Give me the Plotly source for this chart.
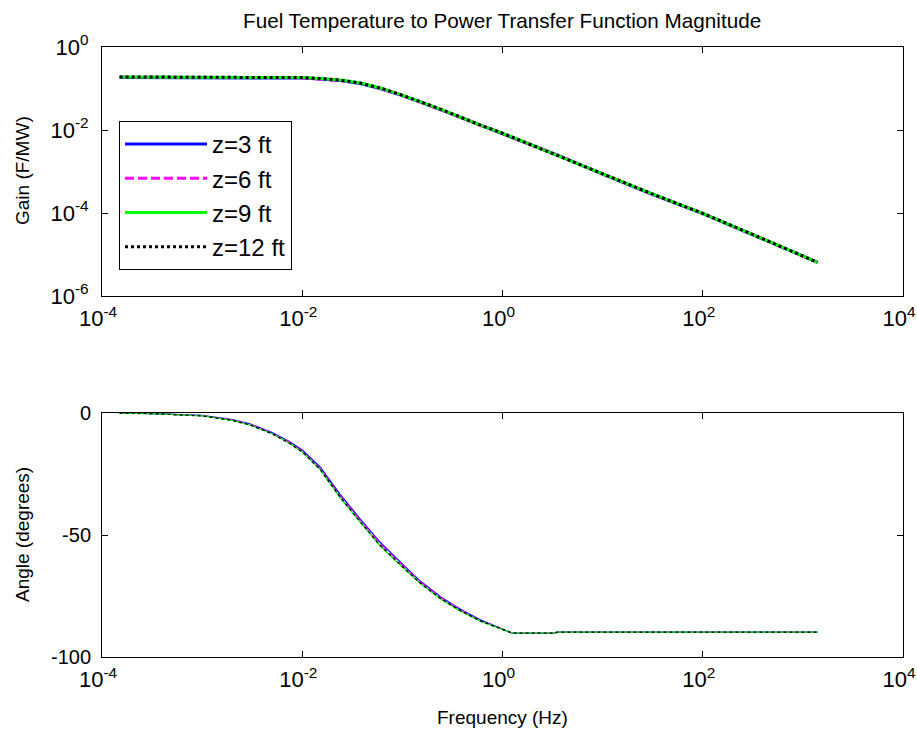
import plotly.graph_objects as go

# ---------------- data ----------------
freq_hz = [1.5e-4, 3e-4, 1e-3, 2e-3, 3e-3, 5e-3, 7.5e-3, 0.01, 0.015, 0.024,
           0.038, 0.06, 0.095, 0.15, 0.24, 0.38, 0.6, 0.95, 1.25, 3.35, 3.5,
           10, 30, 100, 300, 1000, 1400]

series_names = ["z=3 ft", "z=6 ft", "z=9 ft", "z=12 ft"]

gain_z3 = [0.185, 0.185, 0.185, 0.185, 0.185, 0.184, 0.181, 0.178, 0.170, 0.155,
           0.131, 0.100, 0.070, 0.048, 0.031, 0.0200, 0.0129, 0.0087, 0.0066,
           0.0026, 0.0025, 8.7e-4, 2.95e-4, 9.7e-5, 3.2e-5, 9.2e-6, 6.5e-6]
gain_z6 = [0.188, 0.188, 0.188, 0.188, 0.188, 0.187, 0.183, 0.179, 0.171, 0.157,
           0.133, 0.101, 0.071, 0.048, 0.031, 0.0202, 0.0130, 0.0088, 0.0066,
           0.0026, 0.0025, 8.8e-4, 2.97e-4, 9.8e-5, 3.2e-5, 9.2e-6, 6.5e-6]
gain_z9 = [0.19, 0.19, 0.19, 0.19, 0.19, 0.189, 0.186, 0.183, 0.175, 0.160,
           0.135, 0.103, 0.072, 0.049, 0.032, 0.0205, 0.0131, 0.0088, 0.0067,
           0.0026, 0.0025, 8.8e-4, 3.0e-4, 9.8e-5, 3.2e-5, 9.2e-6, 6.5e-6]
gain_z12 = [0.19, 0.19, 0.19, 0.19, 0.19, 0.189, 0.186, 0.183, 0.175, 0.160,
            0.135, 0.103, 0.072, 0.049, 0.032, 0.0205, 0.0131, 0.0088, 0.0067,
            0.0026, 0.0025, 8.8e-4, 3.0e-4, 9.8e-5, 3.2e-5, 9.2e-6, 6.5e-6]

angle_z3 = [0, -0.2, -1.0, -2.7, -4.5, -8.0, -11.8, -15.2, -22.0, -33.5,
            -43.5, -53.0, -61.0, -68.8, -75.3, -80.5, -84.8, -88.0, -90.2,
            -90.2, -89.8, -89.8, -89.8, -89.8, -89.8, -89.8, -89.8]
angle_z6 = [0, -0.2, -1.1, -2.8, -4.7, -8.2, -12.1, -15.6, -22.5, -34.0,
            -44.0, -53.5, -61.5, -69.1, -75.6, -80.7, -85.0, -88.1, -90.2,
            -90.2, -89.8, -89.8, -89.8, -89.8, -89.8, -89.8, -89.8]
angle_z9 = [0, -0.2, -1.2, -3.0, -4.9, -8.5, -12.5, -16.0, -23.0, -34.8,
            -44.8, -54.5, -62.3, -69.8, -76.2, -81.2, -85.3, -88.3, -90.2,
            -90.2, -89.8, -89.8, -89.8, -89.8, -89.8, -89.8, -89.8]
angle_z12 = [0, -0.2, -1.2, -3.0, -4.9, -8.5, -12.5, -16.0, -23.0, -34.6,
             -44.6, -54.2, -62.1, -69.6, -76.0, -81.0, -85.2, -88.2, -90.2,
             -90.2, -89.8, -89.8, -89.8, -89.8, -89.8, -89.8, -89.8]

x_tick_vals = [1e-4, 1e-2, 1, 1e2, 1e4]
x_tick_text = ["10<sup>-4</sup>", "10<sup>-2</sup>", "10<sup>0</sup>",
               "10<sup>2</sup>", "10<sup>4</sup>"]
gain_tick_vals = [1e-6, 1e-4, 1e-2, 1]
gain_tick_text = ["10<sup>-6</sup>", "10<sup>-4</sup>", "10<sup>-2</sup>",
                  "10<sup>0</sup>"]
angle_tick_vals = [-100, -50, 0]
angle_tick_text = ["-100", "-50", "0"]

# ---------------- styles ----------------
colors = ["#0000ff", "#ff00ff", "#00ff00", "#000000"]
dashes = ["solid", "9px,4px", "solid", "3px,3px"]
gains = [gain_z3, gain_z6, gain_z9, gain_z12]
angles = [angle_z3, angle_z6, angle_z9, angle_z12]

FONT = "Liberation Sans, Arial, sans-serif"

fig = go.Figure()
for i, name in enumerate(series_names):
    fig.add_trace(go.Scatter(
        x=freq_hz, y=gains[i], mode="lines", name=name,
        line=dict(color=colors[i], width=3, dash=dashes[i]),
        legendgroup=f"g{i}", xaxis="x", yaxis="y"))
for i, name in enumerate(series_names):
    fig.add_trace(go.Scatter(
        x=freq_hz, y=angles[i], mode="lines", name=name, showlegend=False,
        line=dict(color=colors[i], width=1.3, dash=dashes[i]),
        xaxis="x2", yaxis="y2"))

W, H = 917, 735
xdom = [102 / W, 903 / W]
axis_common = dict(showline=True, linecolor="black", linewidth=1, mirror="ticks",
                   ticks="inside", ticklen=6, tickcolor="black", showgrid=False,
                   zeroline=False, automargin=False, ticklabeloverflow="allow")
log_font = dict(family=FONT, size=22, color="black")
lin_font = dict(family=FONT, size=20, color="black")

fig.update_layout(
    template="none",
    width=W, height=H,
    margin=dict(l=0, r=0, t=0, b=0, pad=0, autoexpand=False),
    paper_bgcolor="white", plot_bgcolor="white",
    font=dict(family=FONT, size=19, color="black"),
    xaxis=dict(type="log", range=[-4, 4], domain=xdom, anchor="y",
               tickvals=x_tick_vals, ticktext=x_tick_text, tickfont=log_font,
               ticklabelstandoff=3, ticklabelshift=-4, **axis_common),
    yaxis=dict(type="log", range=[-6, 0], domain=[1 - 296 / H, 1 - 47 / H], anchor="x",
               tickvals=gain_tick_vals, ticktext=gain_tick_text, tickfont=log_font,
               ticklabelstandoff=8, **axis_common),
    xaxis2=dict(type="log", range=[-4, 4], domain=xdom, anchor="y2",
                tickvals=x_tick_vals, ticktext=x_tick_text, tickfont=log_font,
                ticklabelstandoff=3, ticklabelshift=-4, **axis_common),
    yaxis2=dict(range=[-100, 0], domain=[1 - 657 / H, 1 - 413 / H], anchor="x2",
                tickvals=angle_tick_vals, ticktext=angle_tick_text, tickfont=lin_font,
                ticklabelstandoff=6, **axis_common),
    legend=dict(x=119 / W, y=1 - 121 / H, xanchor="left", yanchor="top",
                bgcolor="white", bordercolor="black", borderwidth=1,
                font=dict(family=FONT, size=24, color="black"),
                traceorder="grouped", tracegroupgap=0, itemwidth=82),
    showlegend=True,
    annotations=[
        dict(text="Fuel Temperature to Power Transfer Function Magnitude",
             x=502 / W, y=1 - 20 / H, xref="paper", yref="paper",
             xanchor="center", yanchor="middle", showarrow=False,
             font=dict(family=FONT, size=20.7)),
        dict(text="Gain (F/MW)", x=22 / W, y=1 - 171 / H, xref="paper", yref="paper",
             xanchor="center", yanchor="middle", textangle=-90, showarrow=False,
             font=dict(family=FONT, size=19)),
        dict(text="Angle (degrees)", x=22 / W, y=1 - 535 / H, xref="paper", yref="paper",
             xanchor="center", yanchor="middle", textangle=-90, showarrow=False,
             font=dict(family=FONT, size=19)),
        dict(text="Frequency (Hz)", x=502 / W, y=1 - 717 / H, xref="paper", yref="paper",
             xanchor="center", yanchor="middle", showarrow=False,
             font=dict(family=FONT, size=19)),
    ],
)

fig.write_html("out.html")
